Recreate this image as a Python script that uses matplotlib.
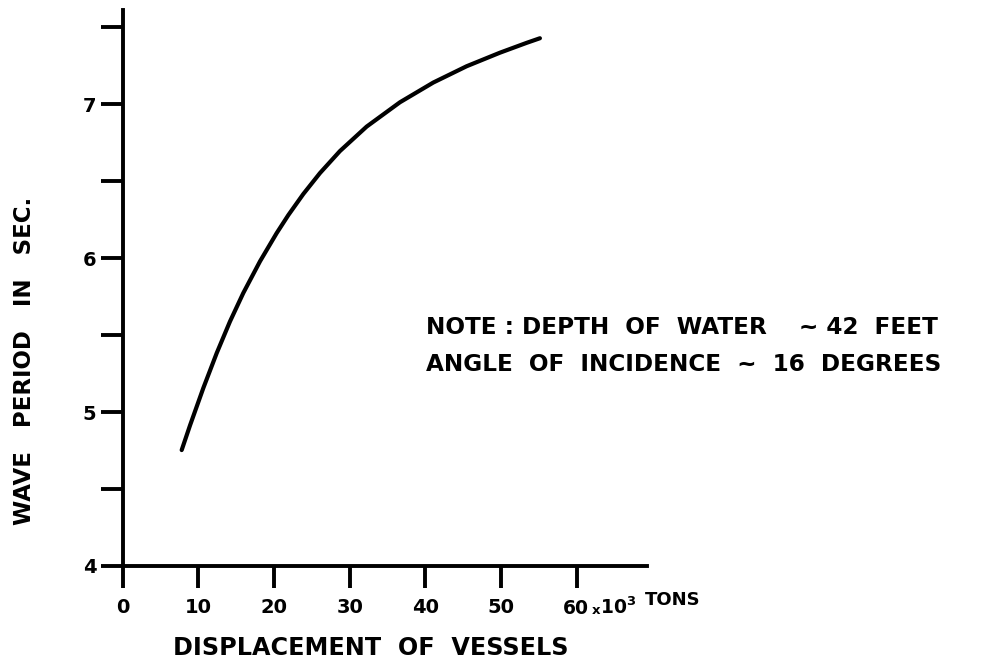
import numpy as np
import matplotlib
matplotlib.use("Agg")
from matplotlib import pyplot as plt
from matplotlib import transforms

# curve (displacement in 10^3 tons, period in sec.)
displacement = [7.79, 8.89, 10.65, 12.42, 14.17, 15.93, 18.14, 20.34, 21.88, 23.86,
                26.06, 28.70, 32.23, 36.63, 41.03, 45.44, 49.84, 53.37, 55.13]
period = [4.753, 4.913, 5.156, 5.383, 5.588, 5.773, 5.979, 6.162, 6.279, 6.416,
          6.552, 6.695, 6.854, 7.012, 7.140, 7.246, 7.334, 7.398, 7.428]

x_ticks = [0, 10, 20, 30, 40, 50, 60]
x_labels = ['0', '10', '20', '30', '40', '50', '']
y_ticks = [4, 4.5, 5, 5.5, 6, 6.5, 7, 7.5]
y_labels = ['4', '', '5', '', '6', '', '7', '']

note_lines = ["NOTE : DEPTH  OF  WATER    ~ 42  FEET",
              "ANGLE  OF  INCIDENCE  ~  16  DEGREES"]

plt.rcParams['font.family'] = ['DejaVu Sans']
plt.rcParams['font.weight'] = 'bold'

fig = plt.figure(figsize=(9.97, 6.68), dpi=100)
ax = fig.add_axes([0.1231, 0.1527, 0.526, 0.832])

ax.plot(displacement, period, color='black', lw=3.0, solid_capstyle='round', solid_joinstyle='round')

ax.set_xlim(0, 69.3)
ax.set_ylim(4, 7.61)
for side in ('top', 'right'):
	ax.spines[side].set_visible(False)
for side in ('left', 'bottom'):
	ax.spines[side].set_linewidth(2.8)

ax.set_xticks(x_ticks)
ax.set_xticklabels(x_labels)
ax.set_yticks(y_ticks)
ax.set_yticklabels(y_labels)
ax.tick_params(axis='both', direction='out', length=16, width=2.8, labelsize=14)
ax.tick_params(axis='x', pad=7)
ax.tick_params(axis='y', pad=3)

# the 60 label carries the x10^3 multiplier
tr = transforms.blended_transform_factory(ax.transData, ax.transAxes)
ax.text(58.2, -0.086, '60', transform=tr, ha='left', va='baseline', fontsize=13.5, fontweight='bold')
ax.text(62.0, -0.086, 'x', transform=tr, ha='left', va='baseline', fontsize=9.5, fontweight='bold')
ax.text(63.1, -0.086, '10$^{3}$', transform=tr, ha='left', va='baseline', fontsize=13.5, fontweight='bold')
ax.text(0.995, -0.061, 'TONS', transform=ax.transAxes, ha='left', va='center', fontsize=13, fontweight='bold')

fig.text(0.3715, 0.030, 'DISPLACEMENT  OF  VESSELS', ha='center', va='center', fontsize=17.2, fontweight='bold')
fig.text(0.025, 0.46, 'WAVE   PERIOD   IN   SEC.', rotation=90, ha='center', va='center', fontsize=16.5, fontweight='bold')

for i, line in enumerate(note_lines):
	fig.text(0.427, 0.51 - i * 0.055, line, ha='left', va='center', fontsize=16.7, fontweight='bold')

fig.savefig('out.png', dpi=100)
